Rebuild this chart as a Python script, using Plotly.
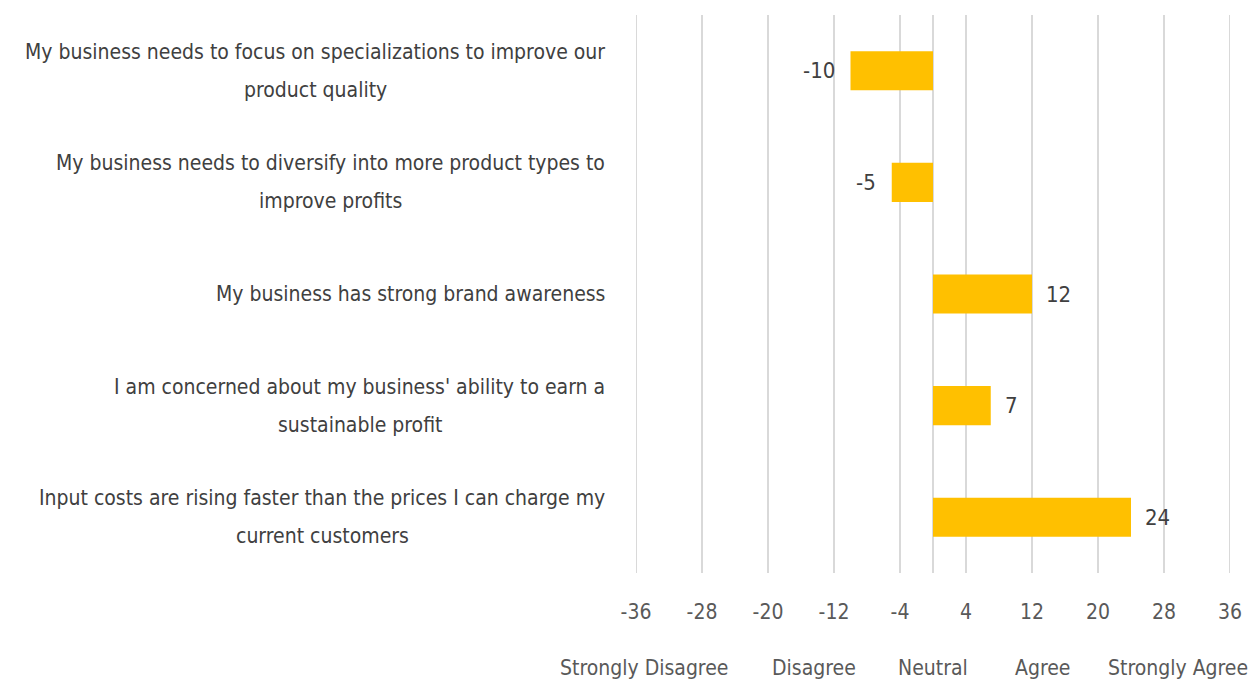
import plotly.graph_objects as go

categories = [
    "My business needs to focus on specializations to improve our<br>product quality",
    "My business needs to diversify into more product types to<br>improve profits",
    "My business has strong brand awareness",
    "I am concerned about my business' ability to earn a<br>sustainable profit",
    "Input costs are rising faster than the prices I can charge my<br>current customers",
]
values = [-10, -5, 12, 7, 24]
tick_vals = [-36, -28, -20, -12, -4, 4, 12, 20, 28, 36]
scale_labels = ["Strongly Disagree", "Disagree", "Neutral", "Agree", "Strongly Agree"]

# layout helpers (positions, not data)
scale_label_x = [-35, -14.4, 0, 13.3, 29.7]
wrap_center_px = [315.5, 331, None, 359.5, 322]   # centre of each wrapped label block (page px)

FONT = "DejaVu Sans Condensed, Liberation Sans Narrow, sans-serif"
TEXT_COL = "#404040"
GRID = "#D9D9D9"
GRID_W = 2
PLOT_LEFT_PX, PLOT_W_PX = 636, 594
ids = [f"c{i}" for i in range(len(categories))]

fig = go.Figure(go.Bar(
    x=values, y=ids, orientation="h",
    marker=dict(color="#FFC000", line=dict(width=0)),
    width=0.35,
    hoverinfo="x",
))

annotations = []
CAT_SIZE = 21
HALF_GAP = 19
RIGHT_X = -0.049
for cid, lab, cpx in zip(ids, categories, wrap_center_px):
    lines = lab.split("<br>")
    if len(lines) == 1:
        annotations.append(dict(
            x=RIGHT_X, xref="paper", y=cid, yref="y", text=lines[0], showarrow=False,
            xanchor="right", yanchor="middle",
            font=dict(family=FONT, size=CAT_SIZE, color=TEXT_COL),
        ))
        continue
    first, second = lines
    annotations.append(dict(
        x=RIGHT_X, xref="paper", y=cid, yref="y", text=first, showarrow=False,
        xanchor="right", yanchor="middle", yshift=HALF_GAP,
        font=dict(family=FONT, size=CAT_SIZE, color=TEXT_COL),
    ))
    annotations.append(dict(
        x=(cpx - PLOT_LEFT_PX) / PLOT_W_PX, xref="paper", y=cid, yref="y",
        text=second, showarrow=False, xanchor="center", yanchor="middle",
        yshift=-HALF_GAP,
        font=dict(family=FONT, size=CAT_SIZE, color=TEXT_COL),
    ))
for cid, v in zip(ids, values):
    annotations.append(dict(
        x=v, xref="x", y=cid, yref="y", text=str(v), showarrow=False,
        xanchor="left" if v >= 0 else "right", yanchor="middle",
        xshift=12 if v >= 0 else -14,
        font=dict(family=FONT, size=22, color=TEXT_COL),
    ))
for xv, lab in zip(scale_label_x, scale_labels):
    annotations.append(dict(
        x=xv, xref="x", y=0, yref="paper", yshift=-95, text=lab, showarrow=False,
        xanchor="center", yanchor="middle",
        font=dict(family=FONT, size=21, color="#595959"),
    ))

shapes = [
    dict(type="line", xref="x", yref="paper", x0=xv, x1=xv, y0=0, y1=1,
         line=dict(color=GRID, width=GRID_W), layer="below")
    for xv in (tick_vals[0], tick_vals[-1])
]

fig.update_layout(
    width=1252, height=675,
    margin=dict(l=628, r=30, t=7, b=110),
    plot_bgcolor="white", paper_bgcolor="white",
    showlegend=False,
    xaxis=dict(
        range=[tick_vals[0], tick_vals[-1]], tickvals=tick_vals,
        ticktext=[str(t) for t in tick_vals],
        showgrid=True, gridcolor=GRID, gridwidth=GRID_W,
        zeroline=True, zerolinecolor=GRID, zerolinewidth=GRID_W,
        showline=False, ticks="", ticklabelstandoff=24,
        tickfont=dict(family=FONT, size=21, color="#595959"),
    ),
    yaxis=dict(
        categoryorder="array", categoryarray=ids, autorange="reversed",
        showticklabels=False, showgrid=False, zeroline=False, showline=False,
    ),
    annotations=annotations,
    shapes=shapes,
)

fig.write_html("out.html")
